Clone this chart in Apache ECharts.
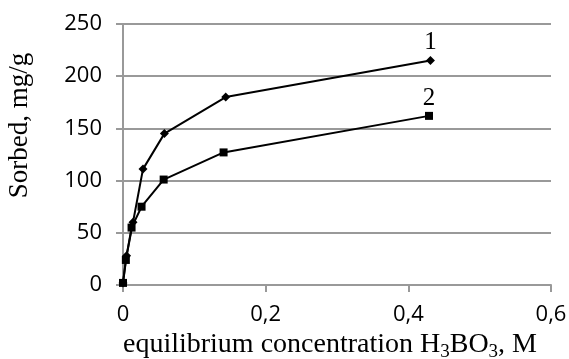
<!DOCTYPE html>
<html>
<head>
<meta charset="utf-8">
<script src="https://cdn.jsdelivr.net/npm/echarts@6/dist/echarts.min.js"></script>
<style>
  html, body { margin: 0; padding: 0; background: #fff; }
  #chart { width: 569px; height: 359px; }
</style>
</head>
<body>
<div id="chart"></div>
<script>
// series 1 (diamonds)
const conc1 = [0, 0.005, 0.014, 0.028, 0.058, 0.144, 0.431]
const sorbed1 = [2, 28, 60, 111, 145, 180, 215]
// series 2 (squares)
const conc2 = [0, 0.004, 0.012, 0.026, 0.057, 0.141, 0.429]
const sorbed2 = [2, 24, 55, 75, 101, 127, 162]
const seriesNames = ['1', '2']

const serif = '"Liberation Serif", "Times New Roman", serif'
const sans = '"Open Sans", "Liberation Sans", sans-serif'

// pair up x/y and put the curve number on the last point
function toPoints(xs, ys, name) {
    return xs.map((x, i) => {
        const item = { value: [x, ys[i]] }
        if (i === xs.length - 1) {
            item.label = {
                show: true,
                formatter: name,
                position: 'top',
                distance: 1,
                fontFamily: serif,
                fontSize: 25,
                color: '#000',
            }
        }
        return item
    })
}

const chart = echarts.init(document.getElementById('chart'))

const option = {
    animation: false,
    grid: {
        left: 123,
        right: 18,
        top: 24,
        bottom: 74,
        outerBoundsMode: 'none',
        containLabel: false,
    },
    xAxis: {
        type: 'value',
        min: 0,
        max: 0.6,
        interval: 0.2,
        name: 'equilibrium concentration H{sub|3}BO{sub|3}, M',
        nameLocation: 'middle',
        nameGap: 43,
        nameTextStyle: {
            fontFamily: serif,
            fontSize: 28,
            color: '#000',
            padding: [0, 14, 0, 0],
            rich: {
                sub: {
                    fontFamily: serif,
                    fontSize: 19,
                    verticalAlign: 'bottom',
                    padding: [14, 0, 0, 0],
                    color: '#000',
                },
            },
        },
        axisLine: { lineStyle: { color: '#999', width: 2 } },
        axisTick: { show: true, length: 7, lineStyle: { color: '#999', width: 2 } },
        axisLabel: {
            fontFamily: sans,
            fontSize: 22,
            color: '#000',
            margin: 19,
            formatter: (v) => String(Math.round(v * 10) / 10).replace('.', ','),
        },
        splitLine: { show: false },
    },
    yAxis: {
        type: 'value',
        min: 0,
        max: 250,
        interval: 50,
        name: 'Sorbed, mg/g',
        nameLocation: 'middle',
        nameRotate: 90,
        nameGap: 90,
        nameTextStyle: {
            fontFamily: serif,
            fontSize: 27,
            color: '#000',
            padding: [0, 0, 0, 58],
        },
        axisLine: { show: true, lineStyle: { color: '#999', width: 2 } },
        axisTick: { show: true, length: 7, lineStyle: { color: '#999', width: 2 } },
        axisLabel: {
            fontFamily: sans,
            fontSize: 22,
            color: '#000',
            margin: 21,
        },
        splitLine: { lineStyle: { color: '#999', width: 2 } },
    },
    series: [
        {
            name: seriesNames[0],
            type: 'line',
            data: toPoints(conc1, sorbed1, seriesNames[0]),
            symbol: 'diamond',
            symbolSize: 9,
            lineStyle: { color: '#000', width: 2 },
            itemStyle: { color: '#000' },
        },
        {
            name: seriesNames[1],
            type: 'line',
            data: toPoints(conc2, sorbed2, seriesNames[1]),
            symbol: 'rect',
            symbolSize: 8,
            lineStyle: { color: '#000', width: 2 },
            itemStyle: { color: '#000' },
        },
    ],
}

chart.setOption(option)
</script>
</body>
</html>
